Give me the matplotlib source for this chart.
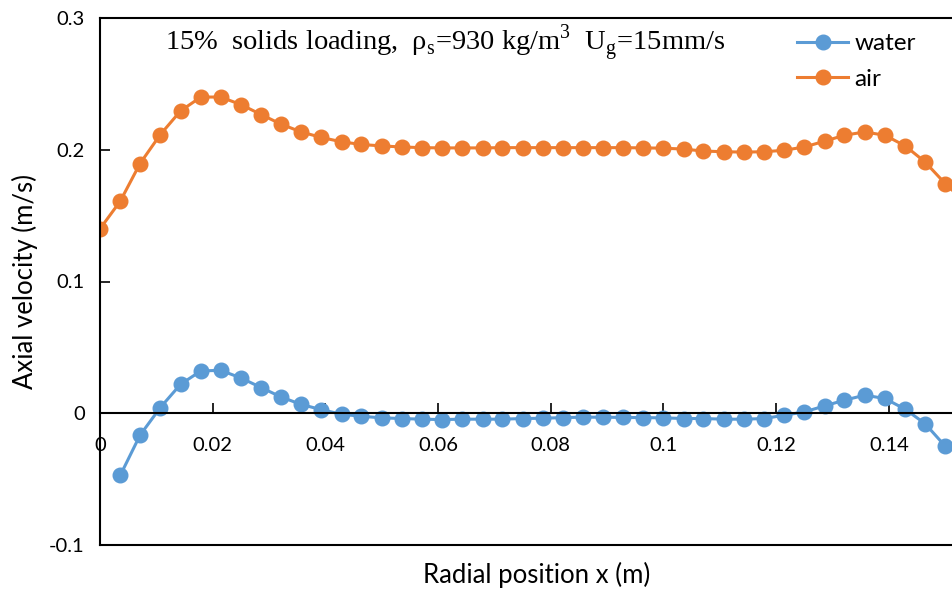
import matplotlib.pyplot as plt

plt.rcParams['font.family'] = ['Lato', 'DejaVu Sans']

# radial positions (m)
x_air = [0.0, 0.0036, 0.0071, 0.0107, 0.0143, 0.0179, 0.0214, 0.025, 0.0286,
         0.0321, 0.0357, 0.0393, 0.0429, 0.0464, 0.05, 0.0536, 0.0571, 0.0607,
         0.0643, 0.0679, 0.0714, 0.075, 0.0786, 0.0821, 0.0857, 0.0893, 0.0929,
         0.0964, 0.1, 0.1036, 0.1071, 0.1107, 0.1143, 0.1179, 0.1214, 0.125,
         0.1286, 0.1321, 0.1357, 0.1393, 0.1429, 0.1464, 0.15, 0.1536]
x_water = x_air[1:43]

# axial velocity (m/s)
air = [0.140, 0.161, 0.1895, 0.2115, 0.2295, 0.240, 0.240, 0.2343, 0.2267,
       0.2195, 0.2135, 0.2093, 0.206, 0.204, 0.2029, 0.2021, 0.2016, 0.2014,
       0.2014, 0.2014, 0.2016, 0.2016, 0.2016, 0.2016, 0.2016, 0.2016, 0.2016,
       0.2014, 0.2012, 0.2005, 0.1990, 0.1985, 0.1982, 0.1985, 0.1996, 0.2021,
       0.2065, 0.211, 0.2135, 0.211, 0.2029, 0.1908, 0.1743, 0.160]
water = [-0.0471, -0.0167, 0.0043, 0.022, 0.0321, 0.0326, 0.0268, 0.0195,
         0.0124, 0.0067, 0.0027, -0.0008, -0.0023, -0.0035, -0.004, -0.0045,
         -0.0048, -0.0045, -0.0045, -0.0045, -0.004, -0.0038, -0.0033, -0.003,
         -0.003, -0.0032, -0.0033, -0.0035, -0.004, -0.004, -0.0045, -0.0045,
         -0.004, -0.0015, 0.001, 0.0056, 0.0099, 0.0137, 0.0112, 0.003,
         -0.0078, -0.025]

x_ticks = [0, 0.02, 0.04, 0.06, 0.08, 0.1, 0.12, 0.14]
x_ticklabels = ['0', '0.02', '0.04', '0.06', '0.08', '0.1', '0.12', '0.14']
y_ticks = [-0.1, 0, 0.1, 0.2, 0.3]
y_ticklabels = ['-0.1', '0', '0.1', '0.2', '0.3']

W, H = 953, 591
AW = 873.4  # plot area width in pixels
fig = plt.figure(figsize=(W / 100, H / 100), dpi=100)
# plot area runs a little past the right edge of the figure
ax = fig.add_axes([100 / W, 46 / H, AW / W, 527 / H])

ax.plot(x_water, water, color='#5B9BD5', lw=2.2, marker='o', ms=10.5,
        label='water')
ax.plot(x_air, air, color='#ED7D31', lw=2.2, marker='o', ms=10.5,
        label='air')

ax.set_xlim(0, 0.155)
ax.set_ylim(-0.1, 0.3)

# horizontal axis sits on y = 0, box line kept at the bottom
ax.spines['bottom'].set_position(('data', 0))
ax.plot([0, 1], [0, 0], transform=ax.transAxes, color='black', lw=1.5,
        clip_on=False)
for s in ax.spines.values():
    s.set_linewidth(1.5)

ax.set_xticks(x_ticks)
ax.set_xticklabels(x_ticklabels)
ax.set_yticks(y_ticks)
ax.set_yticklabels(y_ticklabels)
ax.tick_params(axis='x', direction='in', length=7, width=1.2, pad=17,
               labelsize=14.5)
ax.tick_params(axis='y', direction='in', length=7, width=1.2, pad=11,
               labelsize=14.5)

ax.set_xlabel('Radial position x (m)', fontsize=18.5, va='center')
ax.xaxis.set_label_coords(0.5, -(575 - 545) / 527)
ax.set_ylabel('Axial velocity (m/s)', fontsize=18.5, va='center')
ax.yaxis.set_label_coords(-(100 - 25) / AW, 0.5)

ax.text((165 - 100) / AW, (545 - 43) / 527,
        '15%  solids loading,  ρ$_\\mathregular{s}$=930 kg/m$^\\mathregular{3}$'
        '  U$_\\mathregular{g}$=15mm/s',
        family='Liberation Serif', fontsize=20.5, ha='left', va='center',
        transform=ax.transAxes)

ax.legend(loc='upper left', bbox_to_anchor=(797 / W, (H - 33) / H),
          bbox_transform=fig.transFigure, frameon=False, fontsize=17.5,
          handlelength=2.1, handletextpad=0.25, labelspacing=0.6,
          borderpad=0, borderaxespad=0)

fig.savefig('out.png', dpi=100)
